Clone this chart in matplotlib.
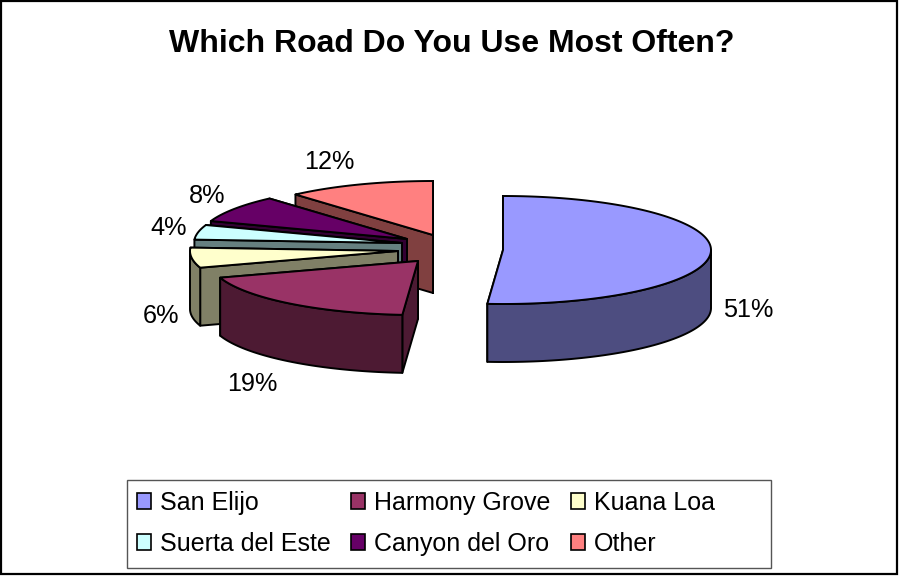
import matplotlib
matplotlib.use("Agg")
import matplotlib.pyplot as plt
from matplotlib.patches import Polygon, Rectangle
import numpy as np

# data
roads = ["San Elijo", "Harmony Grove", "Kuana Loa", "Suerta del Este", "Canyon del Oro", "Other"]
shares = [51.2, 18.8, 6.0, 4.4, 8.1, 11.5]

# colours: top face, side face
top_colors = ["#9999FF", "#993366", "#FFFFCC", "#CCFFFF", "#660066", "#FF8080"]
side_colors = ["#4D4D80", "#4D1A33", "#808066", "#668080", "#330033", "#804040"]

# layout, in pixels of the picture
centers = [(503, 250), (418, 261), (398, 251), (402, 243), (407, 239), (433, 235)]
label_pos = [(748, 310), (252, 384), (161, 316), (169, 228), (207, 196), (329, 162)]
rx, ry, depth = 208, 54, 58
draw_order = [5, 4, 3, 2, 1, 0]

plt.rcParams["font.family"] = ["Liberation Sans", "DejaVu Sans"]

fig = plt.figure(figsize=(8.99, 5.77), dpi=100)
ax = fig.add_axes([0, 0, 1, 1])
ax.set_xlim(0, 899)
ax.set_ylim(577, 0)
ax.axis("off")

# outer frame
ax.add_patch(Rectangle((1, 1), 896, 573, facecolor="white", edgecolor="black", linewidth=1.6))


def rim(cx, cy, a0, a1):
    # points on the ellipse, angles clockwise from 12 o'clock
    t = np.radians(np.linspace(a0, a1, max(int(abs(a1 - a0)) * 2, 2)))
    return np.column_stack([cx + rx * np.sin(t), cy - ry * np.cos(t)])


def face(pts, color):
    ax.add_patch(Polygon(pts, closed=True, facecolor=color, edgecolor="black",
                         linewidth=1.4, joinstyle="round"))


# slices, back to front
ends = np.cumsum(shares) * 3.6
starts = ends - np.array(shares) * 3.6
for i in draw_order:
    cx, cy = centers[i]
    a0, a1 = starts[i], ends[i]
    # cut faces, the one turned away from us first
    for a in (a1, a0):
        p = rim(cx, cy, a, a)[0]
        face([(cx, cy), p, (p[0], p[1] + depth), (cx, cy + depth)], side_colors[i])
    # outer wall, only the part facing us
    v0, v1 = max(a0, 90), min(a1, 270)
    if v1 > v0:
        arc = rim(cx, cy, v0, v1)
        face(np.vstack([arc, arc[::-1] + [0, depth]]), side_colors[i])
    # top
    face(np.vstack([[(cx, cy)], rim(cx, cy, a0, a1)]), top_colors[i])

# percent labels
for share, (x, y) in zip(shares, label_pos):
    ax.text(x, y, f"{share:.0f}%", fontsize=18.2, color="black", ha="center", va="center")

# title
ax.text(452, 44, "Which Road Do You Use Most Often?", fontsize=23, fontweight="bold",
        ha="center", va="center")

# legend box is wider than its entries, so the frame is drawn on its own
ax.add_patch(Rectangle((127, 480), 644, 88, facecolor="white", edgecolor="#555555", linewidth=1.0))

# legend, filled column by column
handles = [Rectangle((0, 0), 1, 1, facecolor=top_colors[i], edgecolor="black", linewidth=1.2)
           for i in range(len(roads))]
order = [0, 3, 1, 4, 2, 5]
leg = ax.legend([handles[i] for i in order], [roads[i] for i in order], ncols=3,
                loc="lower left", bbox_to_anchor=(127, 566), bbox_transform=ax.transData,
                borderaxespad=0, fontsize=18, frameon=False, handlelength=0.57, handleheight=0.57,
                handletextpad=0.36, columnspacing=0.8, labelspacing=0.68, borderpad=0.4)

plt.savefig("out.png", dpi=100)
